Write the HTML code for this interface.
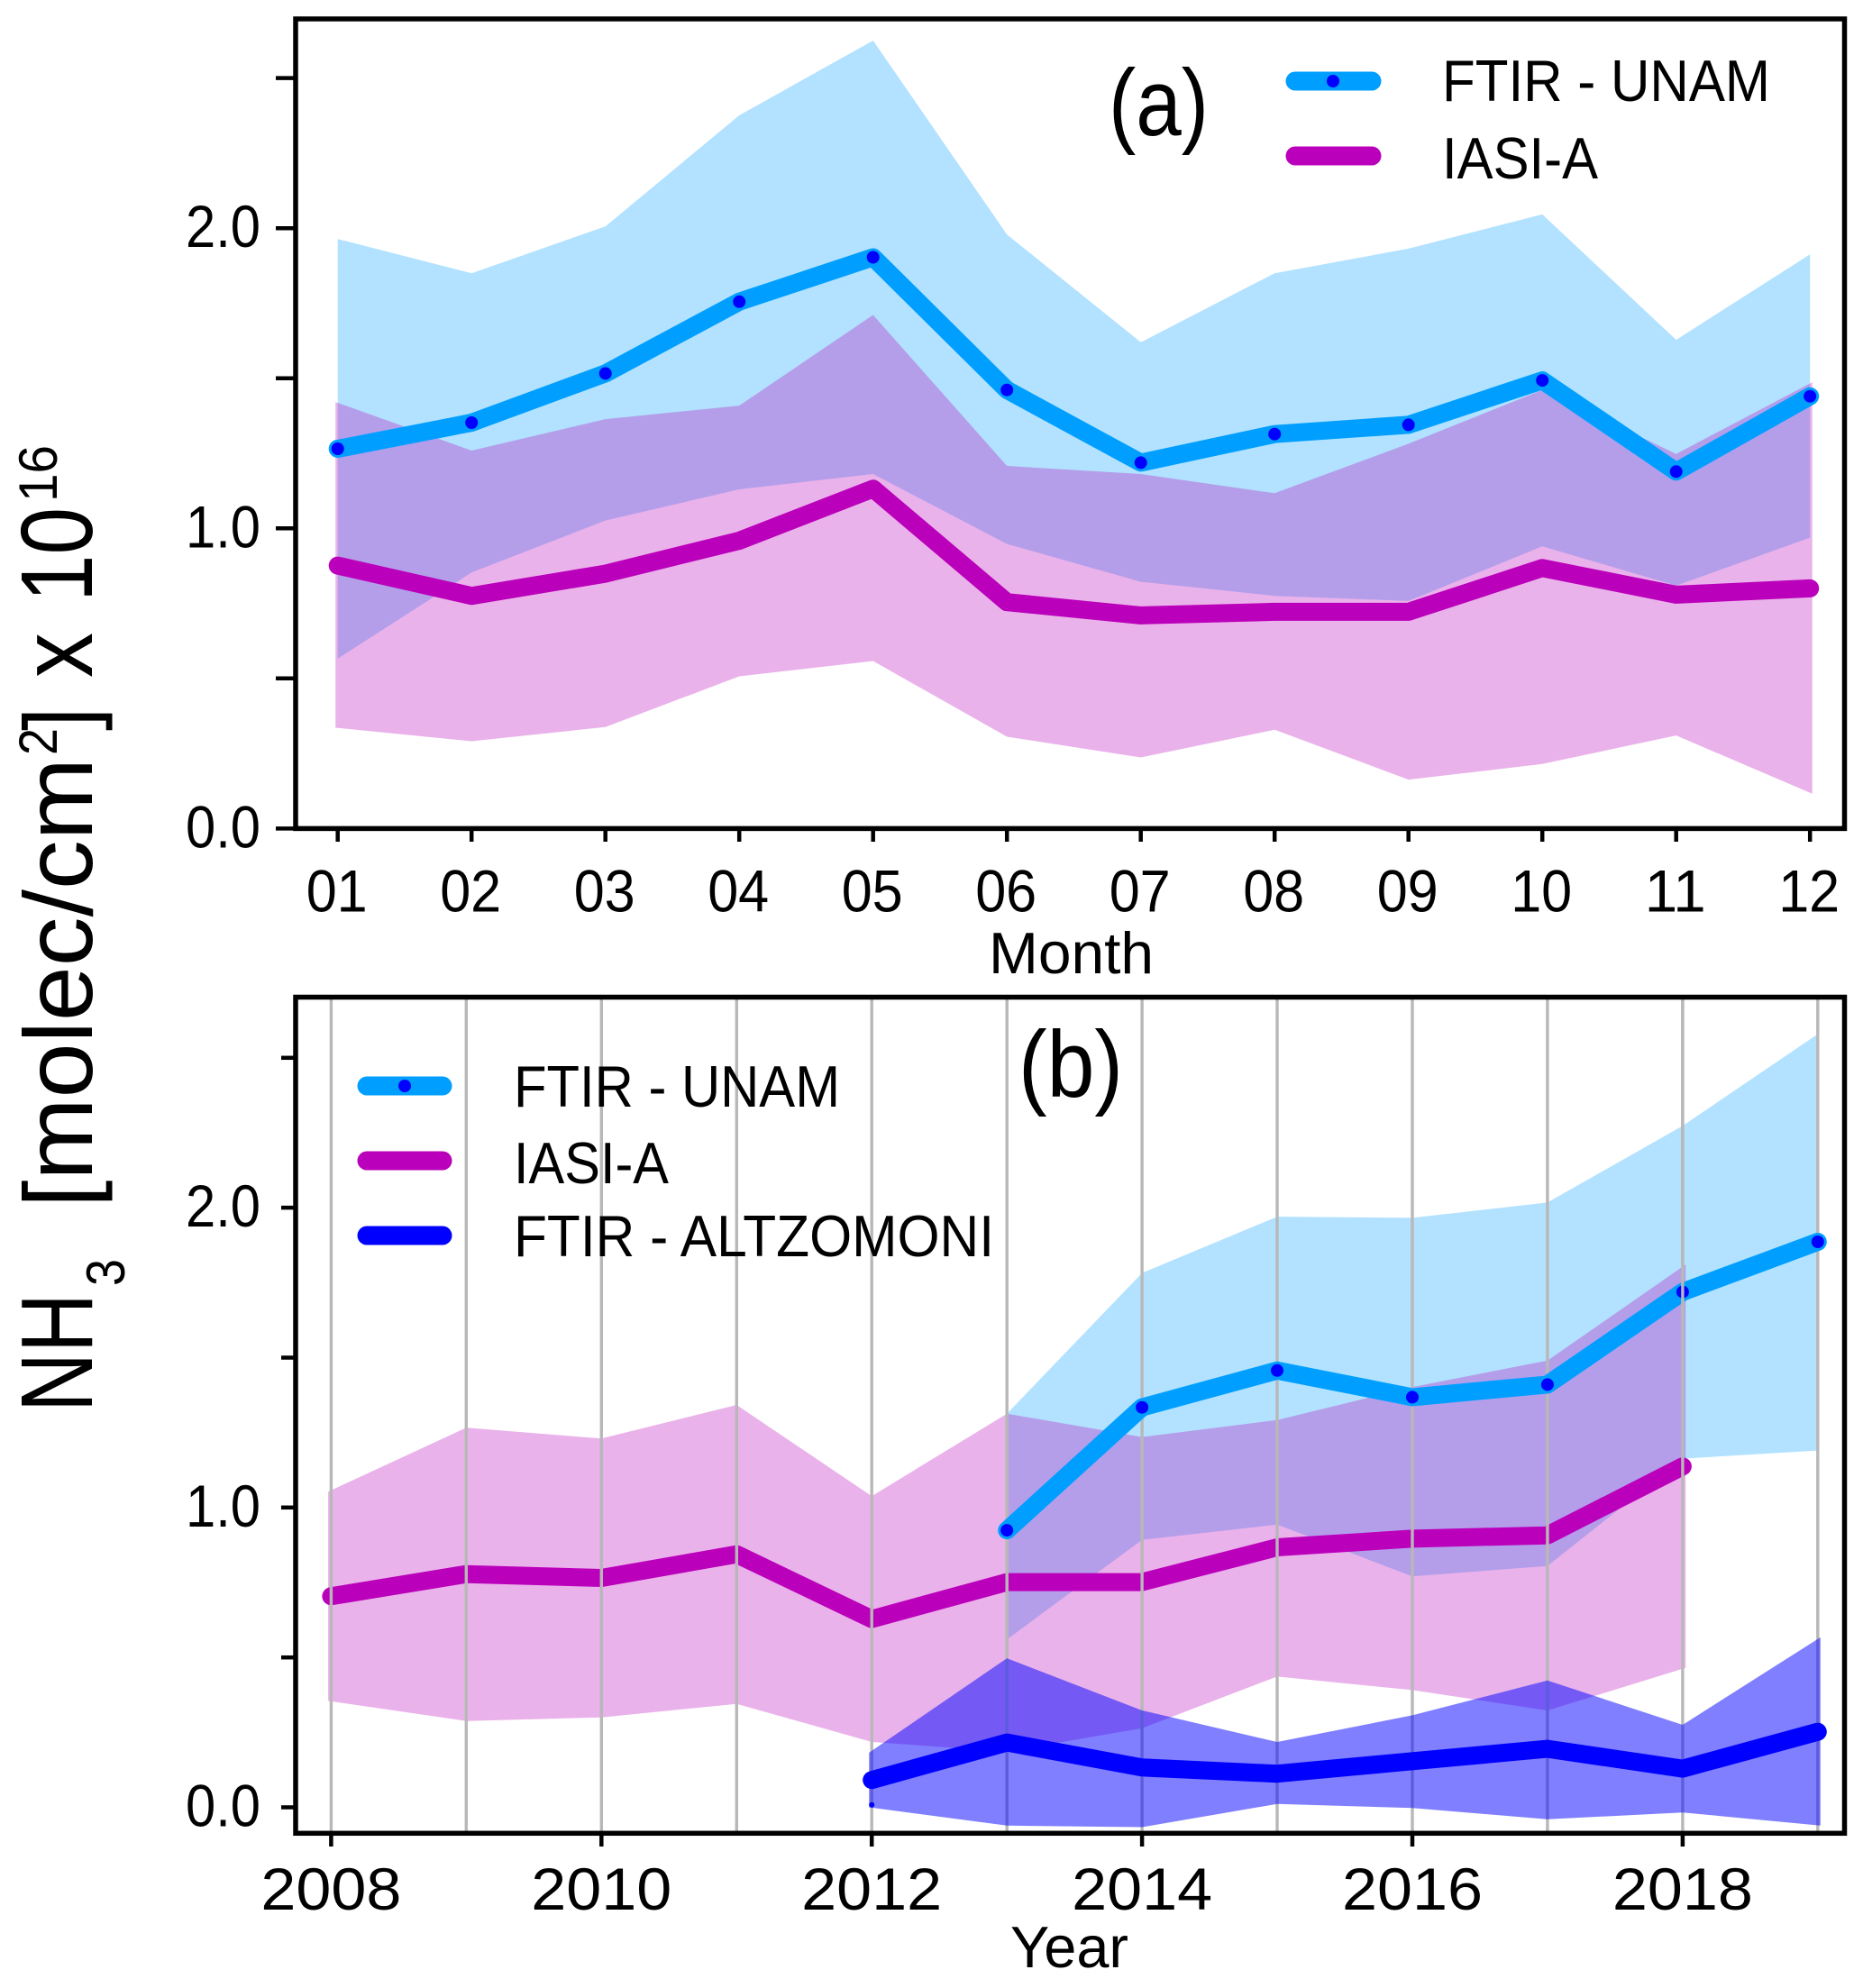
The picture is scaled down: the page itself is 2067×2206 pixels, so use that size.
<!DOCTYPE html>
<html lang="en">
<head>
<meta charset="utf-8">
<title>NH3 column time series</title>
<style>
  html, body { margin: 0; padding: 0; background: #ffffff; }
  svg { display: block; }
  text { font-family: "Liberation Sans", "DejaVu Sans", sans-serif; fill: #000000; }
</style>
</head>
<body>
<svg id="figure" xmlns="http://www.w3.org/2000/svg" width="2067" height="2206" viewBox="0 0 2067 2206">
  <rect x="0" y="0" width="2067" height="2206" fill="#ffffff"/>

  <g id="panel-a"></g>
  <g id="panel-b"></g>

  <g>
    <text transform="translate(102,1567) rotate(-90)" font-size="113" textLength="132" lengthAdjust="spacingAndGlyphs">NH</text>
    <text transform="translate(138,1427) rotate(-90)" font-size="60" textLength="30" lengthAdjust="spacingAndGlyphs">3</text>
    <text transform="translate(102,1340) rotate(-90)" font-size="108" textLength="499" lengthAdjust="spacingAndGlyphs">[molec/cm</text>
    <text transform="translate(63,838) rotate(-90)" font-size="60" textLength="30" lengthAdjust="spacingAndGlyphs">2</text>
    <text transform="translate(102,811) rotate(-90)" font-size="108" textLength="26" lengthAdjust="spacingAndGlyphs">]</text>
    <text transform="translate(102,752) rotate(-90)" font-size="115" textLength="50" lengthAdjust="spacingAndGlyphs">x</text>
    <text transform="translate(102,668) rotate(-90)" font-size="113" textLength="105" lengthAdjust="spacingAndGlyphs">10</text>
    <text transform="translate(63,557) rotate(-90)" font-size="60" textLength="63" lengthAdjust="spacingAndGlyphs">16</text>
  </g>

  <text x="1230" y="150" font-size="105" textLength="111" lengthAdjust="spacingAndGlyphs">(a)</text>
  <g>
    <line x1="1437" y1="90" x2="1522" y2="90" stroke="#009fff" stroke-width="21" stroke-linecap="round"/>
    <circle cx="1479" cy="90" r="7" fill="#0000ff"/>
    <text x="1600" y="112" font-size="65" textLength="364" lengthAdjust="spacingAndGlyphs">FTIR - UNAM</text>
    <line x1="1437" y1="173" x2="1522" y2="173" stroke="#bb00bb" stroke-width="21" stroke-linecap="round"/>
    <text x="1600" y="198" font-size="65" textLength="173" lengthAdjust="spacingAndGlyphs">IASI-A</text>
  </g>
  <text x="1097" y="1080" font-size="65" textLength="183" lengthAdjust="spacingAndGlyphs">Month</text>

  <text x="1130" y="1217" font-size="105" textLength="116" lengthAdjust="spacingAndGlyphs">(b)</text>
  <g>
    <line x1="407" y1="1205" x2="491" y2="1205" stroke="#009fff" stroke-width="21" stroke-linecap="round"/>
    <circle cx="449" cy="1205" r="7" fill="#0000ff"/>
    <text x="570" y="1228" font-size="65" textLength="362" lengthAdjust="spacingAndGlyphs">FTIR - UNAM</text>
    <line x1="407" y1="1288" x2="491" y2="1288" stroke="#bb00bb" stroke-width="21" stroke-linecap="round"/>
    <text x="570" y="1313" font-size="65" textLength="172" lengthAdjust="spacingAndGlyphs">IASI-A</text>
    <line x1="407" y1="1371" x2="491" y2="1371" stroke="#0000ff" stroke-width="21" stroke-linecap="round"/>
    <text x="570" y="1394" font-size="65" textLength="533" lengthAdjust="spacingAndGlyphs">FTIR - ALTZOMONI</text>
  </g>
  <text x="1121" y="2183" font-size="65" textLength="131" lengthAdjust="spacingAndGlyphs">Year</text>
</svg>

<script>
// Panel (a): monthly cycle
const months = ['01','02','03','04','05','06','07','08','09','10','11','12'];
const monthlyFtirMean  = [1.265,1.352,1.516,1.755,1.903,1.461,1.219,1.314,1.345,1.493,1.189,1.440];
const monthlyFtirUpper = [1.964,1.850,2.006,2.376,2.625,1.979,1.620,1.850,1.932,2.046,1.628,1.913];
const monthlyFtirLower = [0.566,0.853,1.026,1.130,1.181,0.948,0.822,0.775,0.758,0.940,0.809,0.969];
const monthlyIasiMean  = [0.876,0.775,0.849,0.959,1.132,0.754,0.710,0.722,0.722,0.868,0.779,0.800];
const monthlyIasiUpper = [1.421,1.259,1.364,1.409,1.711,1.208,1.181,1.117,1.282,1.461,1.248,1.487];
const monthlyIasiLower = [0.336,0.291,0.338,0.507,0.558,0.306,0.237,0.329,0.163,0.215,0.310,0.116];

// Panel (b): yearly series
const years = [2008,2009,2010,2011,2012,2013,2014,2015,2016,2017,2018,2019];
const yearTickLabels = [2008,2010,2012,2014,2016,2018];
const iasiYears = [2008,2009,2010,2011,2012,2013,2014,2015,2016,2017,2018];
const yearlyIasiMean  = [0.704,0.778,0.765,0.844,0.628,0.751,0.751,0.867,0.896,0.907,1.137];
const yearlyIasiUpper = [1.053,1.266,1.230,1.342,1.038,1.313,1.235,1.292,1.402,1.490,1.810];
const yearlyIasiLower = [0.355,0.288,0.300,0.345,0.218,0.186,0.264,0.436,0.391,0.323,0.465];
const unamYears = [2013,2014,2015,2016,2017,2018,2019];
const yearlyUnamMean  = [0.924,1.334,1.457,1.368,1.410,1.719,1.886];
const yearlyUnamUpper = [1.313,1.782,1.970,1.966,2.017,2.273,2.579];
const yearlyUnamLower = [0.560,0.892,0.943,0.770,0.805,1.163,1.190];
const altzYears = [2012,2013,2014,2015,2016,2017,2018,2019];
const yearlyAltzMean  = [0.091,0.216,0.133,0.112,0.154,0.195,0.129,0.252];
const yearlyAltzUpper = [0.182,0.497,0.323,0.218,0.307,0.423,0.275,0.567];
const yearlyAltzLower = [0.000,-0.061,-0.066,0.011,-0.002,-0.040,-0.017,-0.061];
const strayPointYear = 2012;
const strayPointValue = 0.008;
const gridOverUnamYear = 2018;

// Shared y-axis ticks
const yMajorTicks = [0, 1, 2];
const yMinorTicks = [0.5, 1.5, 2.5];

// Axis functions
function xMonth(i) { return 374.7 + 148.5 * i; }
function yMonth(v) { return 919.4 - 333.1 * v; }
function xYear(y) { return 367.4 + 149.95 * (y - 2008); }
function yYear(v) { return 2005.5 - 332.7 * v; }

const NS = 'http://www.w3.org/2000/svg';
const COLOR_UNAM = '#009fff';
const COLOR_IASI = '#bb00bb';
const COLOR_ALTZ = '#0000ff';

function drawBand(parent, name, xs, upper, lower, color, opacity, pad) {
  const pts = [];
  xs.forEach(function (x, i) {
    const px = x + (i === 0 ? -pad : (i === xs.length - 1 ? pad : 0));
    pts.push(px.toFixed(1) + ',' + upper[i].toFixed(1));
  });
  for (let i = xs.length - 1; i >= 0; i--) {
    const px = xs[i] + (i === 0 ? -pad : (i === xs.length - 1 ? pad : 0));
    pts.push(px.toFixed(1) + ',' + lower[i].toFixed(1));
  }
  const el = document.createElementNS(NS, 'polygon');
  
  
  el.setAttribute('points', pts.join(' '));
  el.setAttribute('fill', color);
  el.setAttribute('fill-opacity', opacity);
  parent.appendChild(el);
}

function drawLine(parent, name, xs, ys, color, width) {
  const el = document.createElementNS(NS, 'polyline');
  
  
  el.setAttribute('points', xs.map(function (x, i) { return x.toFixed(1) + ',' + ys[i].toFixed(1); }).join(' '));
  el.setAttribute('fill', 'none');
  el.setAttribute('stroke', color);
  el.setAttribute('stroke-width', width);
  el.setAttribute('stroke-linecap', 'round');
  el.setAttribute('stroke-linejoin', 'round');
  parent.appendChild(el);
}

function drawDot(parent, name, x, y, r) {
  const el = document.createElementNS(NS, 'circle');
  
  
  el.setAttribute('cx', x.toFixed(1));
  el.setAttribute('cy', y.toFixed(1));
  el.setAttribute('r', r);
  el.setAttribute('fill', '#0000ff');
  parent.appendChild(el);
}

function drawRule(parent, name, x1, y1, x2, y2, color, width) {
  const el = document.createElementNS(NS, 'line');
  
  
  el.setAttribute('x1', x1.toFixed(1));
  el.setAttribute('y1', y1.toFixed(1));
  el.setAttribute('x2', x2.toFixed(1));
  el.setAttribute('y2', y2.toFixed(1));
  el.setAttribute('stroke', color);
  el.setAttribute('stroke-width', width);
  parent.appendChild(el);
}

function drawLabel(parent, name, str, x, y, anchor, size, length) {
  const el = document.createElementNS(NS, 'text');
  
  
  el.setAttribute('x', x.toFixed(1));
  el.setAttribute('y', y.toFixed(1));
  el.setAttribute('text-anchor', anchor);
  el.setAttribute('font-size', size);
  el.setAttribute('textLength', length);
  el.setAttribute('lengthAdjust', 'spacingAndGlyphs');
  el.textContent = str;
  parent.appendChild(el);
}

function drawFrame(parent, name, x, y, w, h) {
  const el = document.createElementNS(NS, 'rect');
  
  
  el.setAttribute('x', x);
  el.setAttribute('y', y);
  el.setAttribute('width', w);
  el.setAttribute('height', h);
  el.setAttribute('fill', 'none');
  el.setAttribute('stroke', '#000000');
  el.setAttribute('stroke-width', 5.5);
  parent.appendChild(el);
}

// ---------- Panel (a) ----------
(function () {
  const g = document.getElementById('panel-a');
  const xs = months.map(function (m, i) { return xMonth(i); });

  drawBand(g, 'ftir-unam-monthly-band', xs, monthlyFtirUpper.map(yMonth), monthlyFtirLower.map(yMonth), COLOR_UNAM, 0.3, 0);
  drawBand(g, 'iasi-monthly-band', xs, monthlyIasiUpper.map(yMonth), monthlyIasiLower.map(yMonth), COLOR_IASI, 0.3, 2.5);
  drawLine(g, 'ftir-unam-monthly-line', xs, monthlyFtirMean.map(yMonth), COLOR_UNAM, 20);
  monthlyFtirMean.forEach(function (v, i) {
    drawDot(g, 'ftir-unam-point-' + months[i], xMonth(i), yMonth(v), 7);
  });
  drawLine(g, 'iasi-monthly-line', xs, monthlyIasiMean.map(yMonth), COLOR_IASI, 20);

  months.forEach(function (m, i) {
    drawRule(g, 'x-tick-' + m, xMonth(i), 919.4, xMonth(i), 934, '#000000', 4.5);
    drawLabel(g, 'x-tick-label-' + m, m, xMonth(i) - 1, 1011.5, 'middle', 66, 68);
  });
  yMajorTicks.forEach(function (v) {
    drawRule(g, 'y-tick-' + v, 306, yMonth(v), 328, yMonth(v), '#000000', 4.5);
    drawLabel(g, 'y-tick-label-' + v, v.toFixed(1), 289, yMonth(v) + 21, 'end', 66, 83);
  });
  yMinorTicks.forEach(function (v) {
    drawRule(g, 'y-minor-tick-' + v, 306, yMonth(v), 328, yMonth(v), '#000000', 4.5);
  });
  drawFrame(g, 'panel-a-frame', 328, 21, 1718.5, 898.4);
})();

// ---------- Panel (b) ----------
(function () {
  const g = document.getElementById('panel-b');

  drawBand(g, 'ftir-unam-yearly-band', unamYears.map(xYear), yearlyUnamUpper.map(yYear), yearlyUnamLower.map(yYear), COLOR_UNAM, 0.3, 0);
  drawBand(g, 'iasi-yearly-band', iasiYears.map(xYear), yearlyIasiUpper.map(yYear), yearlyIasiLower.map(yYear), COLOR_IASI, 0.3, 3.3);
  drawLine(g, 'iasi-yearly-line', iasiYears.map(xYear), yearlyIasiMean.map(yYear), COLOR_IASI, 20);

  years.forEach(function (y) {
    drawRule(g, 'x-grid-line-' + y, xYear(y), 1107, xYear(y), 2034, '#b8b8b8', 3.4);
  });

  drawBand(g, 'altzomoni-yearly-band', altzYears.map(xYear), yearlyAltzUpper.map(yYear), yearlyAltzLower.map(yYear), COLOR_ALTZ, 0.5, 3);
  drawLine(g, 'altzomoni-yearly-line', altzYears.map(xYear), yearlyAltzMean.map(yYear), COLOR_ALTZ, 20);
  drawDot(g, 'altzomoni-first-point', xYear(strayPointYear), yYear(strayPointValue), 3);
  drawLine(g, 'ftir-unam-yearly-line', unamYears.map(xYear), yearlyUnamMean.map(yYear), COLOR_UNAM, 20);
  yearlyUnamMean.forEach(function (v, i) {
    drawDot(g, 'ftir-unam-point-' + unamYears[i], xYear(unamYears[i]), yYear(v), 7);
  });
  drawRule(g, 'x-grid-line-over-unam', xYear(gridOverUnamYear), 1107, xYear(gridOverUnamYear), 1460, '#b8b8b8', 3.4);

  yearTickLabels.forEach(function (y) {
    drawRule(g, 'x-tick-' + y, xYear(y), 2034.3, xYear(y), 2049, '#000000', 4.5);
    drawLabel(g, 'x-tick-label-' + y, String(y), xYear(y), 2119, 'middle', 66, 156);
  });
  yMajorTicks.forEach(function (v) {
    drawRule(g, 'y-tick-' + v, 312, yYear(v), 328, yYear(v), '#000000', 4.5);
    drawLabel(g, 'y-tick-label-' + v, v.toFixed(1), 289, yYear(v) + 21, 'end', 66, 83);
  });
  yMinorTicks.forEach(function (v) {
    drawRule(g, 'y-minor-tick-' + v, 312, yYear(v), 328, yYear(v), '#000000', 4.5);
  });
  drawFrame(g, 'panel-b-frame', 328, 1106.5, 1718.5, 927.8);
})();
</script>
</body>
</html>
